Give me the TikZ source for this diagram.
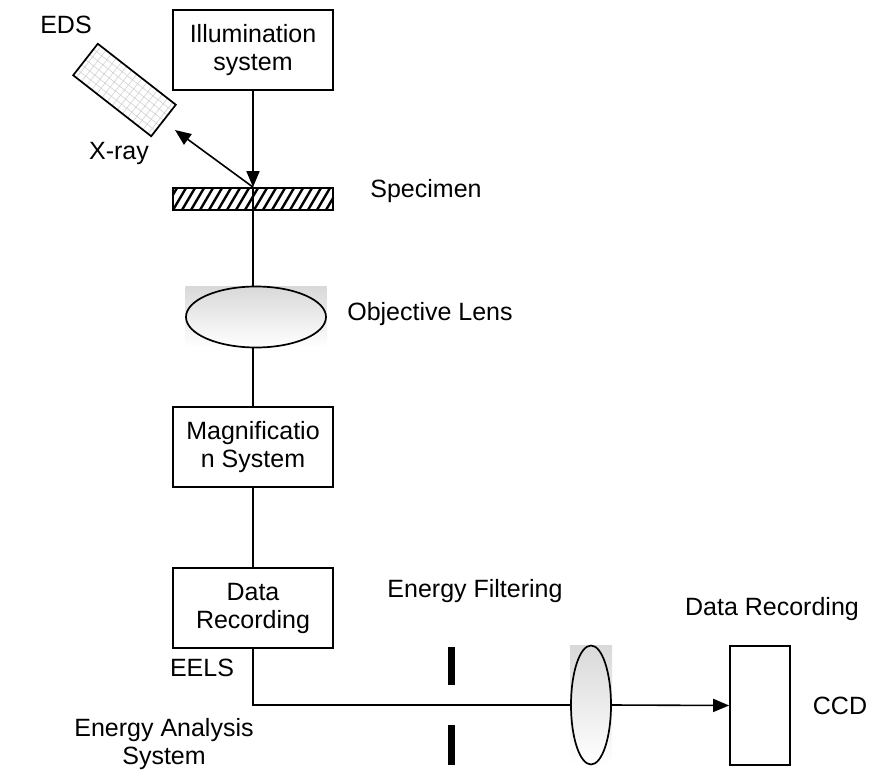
\documentclass[tikz,border=0pt]{standalone}
\usepackage{fontspec}
\setmainfont{Liberation Sans}
\usetikzlibrary{arrows.meta,shapes.geometric,calc}

\begin{document}
\begin{tikzpicture}[x=1pt,y=-1pt,
  txt/.style={font=\fontsize{25}{28}\selectfont},
  lbl/.style={txt, inner sep=0pt, anchor=base},
  boxnode/.style={txt, draw, line width=1.7pt, minimum width=160pt, minimum height=80pt,
    inner sep=0pt, align=center},
  beam/.style={line width=1.6pt},
  tip/.style={-{Triangle[length=16pt,width=13pt]}},
  lensbg/.style={inner sep=0pt, top color=gray!30, bottom color=white, draw=none},
  lens/.style={ellipse, draw, line width=1.7pt, inner sep=0pt},
  slit/.style={fill=black, draw=none, minimum width=7pt, inner sep=0pt},
]
\useasboundingbox (0,0) rectangle (880,770);

% illumination and specimen
\node[boxnode] (illum) at (253,50) {Illumination\\system};
\node[draw, line width=1.7pt, minimum width=160pt, minimum height=22pt, inner sep=0pt,
  path picture={
    \foreach \i in {-2,...,19}
      \draw[line width=2.4pt]
        ($(path picture bounding box.south west)+(\i*9,0)$) -- ++(13,-22);
  }] (spec) at (253,199) {};

% EDS detector with its fine grid
\node[draw, line width=1.7pt, rotate=-38, minimum width=99pt, minimum height=40pt,
  inner sep=0pt, fill=white,
  path picture={
    \draw[gray!35, line width=0.6pt, step=6.5pt]
      ($(path picture bounding box.center)+(-78,-78)$) grid ++(156,156);
  }] (eds) at (124.5,90) {};
\coordinate (xray) at (175,130);

% objective lens
\node[lensbg, minimum width=141pt, minimum height=61pt] (objbg) at (256,317) {};
\node[lens, minimum width=140pt, minimum height=61pt] (objlens) at (256,317) {};

% magnification and recording
\node[boxnode] (mag) at (253,447) {Magnificatio\\n System};
\node[boxnode] (data) at (253,608) {Data\\Recording};

% energy filter: slit, lens, CCD
\node[slit, minimum height=38pt] (slitA) at (451.5,666) {};
\node[slit, minimum height=40pt] (slitB) at (451.5,745) {};
\node[lensbg, minimum width=42pt, minimum height=120pt] (lensbg2) at (591,705) {};
\node[lens, minimum width=40pt, minimum height=119pt] (lens2) at (591,705) {};
\node[draw, line width=1.7pt, minimum width=60pt, minimum height=119pt, inner sep=0pt]
  (ccd) at (760,705.5) {};

% beam path
\draw[beam, tip] (illum.south) -- (spec.north);
\draw[beam] (spec.north) -- (spec.north |- objlens.north);
\draw[beam, tip] (spec.north) -- (xray);
\draw[beam] (objlens.south -| mag.north) -- (mag.north);
\draw[beam] (mag.south) -- (data.north);
\draw[beam] (data.south) |- (lens2.west);
\draw[beam, tip] (lens2.east) -- (ccd.west);

% labels
\node[lbl] (lEDS) at (66,34) {EDS};
\node[lbl] (lXray) at (119,160) {X-ray};
\node[lbl] (lSpec) at (426,197) {Specimen};
\node[lbl] (lObj) at (430,320) {Objective Lens};
\node[lbl] (lEELS) at (202,676) {EELS};
\node[txt, inner sep=0pt, align=center] (lEAS) at (164,744) {Energy Analysis\\System};
\node[lbl] (lEF) at (475,597) {Energy Filtering};
\node[lbl] (lDR) at (772,615) {Data Recording};
\node[lbl] (lCCD) at (840,714) {CCD};
\end{tikzpicture}
\end{document}
